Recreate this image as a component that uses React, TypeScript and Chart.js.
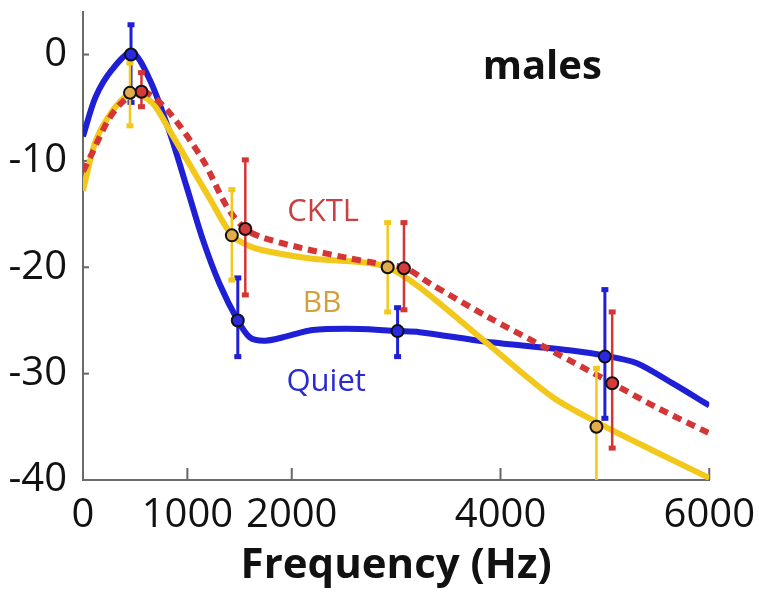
import React, { useEffect, useRef } from "react";
import { Chart, registerables } from "chart.js";

Chart.register(...registerables);

const FONT = "'Open Sans', 'Noto Sans', sans-serif";

const xTickValues = [0, 1000, 2000, 4000, 6000];
const yTickValues = [0, -10, -20, -30, -40];

// Smoothed spectra (dB)
const quietCurveX = [0, 120, 280, 470, 641, 833, 995, 1148, 1310, 1483, 1600, 1750, 1950, 2200, 2650, 3000, 3225, 3866, 4660, 4995, 5301, 5646, 6000];
const quietCurveY = [-7.7, -4, -1.4, 0.2, -2.4, -7.4, -12.5, -17.4, -21.6, -25, -26.6, -26.9, -26.5, -25.9, -25.8, -26, -26.1, -27, -27.8, -28.3, -29, -30.9, -33];

const bbCurveX = [0, 115, 240, 400, 500, 670, 833, 995, 1200, 1426, 1570, 1720, 2200, 2650, 2920, 3225, 3866, 4498, 4928, 5455, 6000];
const bbCurveY = [-12.8, -8.3, -5.9, -4, -3.6, -4.6, -7.2, -9.9, -13.3, -17, -17.9, -18.4, -19.2, -19.5, -20, -21.9, -27.1, -32.2, -34.6, -37.2, -39.8];

const cktlCurveX = [0, 86, 240, 373, 560, 804, 1148, 1378, 1555, 1720, 2100, 2526, 2800, 3091, 3321, 3866, 4498, 5070, 5500, 6000];
const cktlCurveY = [-11, -9.3, -6.2, -4.5, -3.4, -5.2, -9.9, -14.3, -16.4, -17.2, -18.2, -19.1, -19.6, -20.1, -21.5, -24.6, -27.9, -30.9, -33.2, -35.6];

// Measured points with error bars
const quietPointX = [460, 1483, 3014, 5000];
const quietPointY = [0, -25, -26, -28.4];
const quietErrHigh = [2.8, -21, -23.8, -22.1];
const quietErrLow = [-4.5, -28.4, -28.4, -34.2];

const bbPointX = [450, 1426, 2919, 4919];
const bbPointY = [-3.6, -17, -20, -35];
const bbErrHigh = [-0.8, -12.7, -15.8, -29.5];
const bbErrLow = [-6.7, -21.2, -24.2, -40];

const cktlPointX = [560, 1555, 3075, 5070];
const cktlPointY = [-3.5, -16.4, -20.1, -30.9];
const cktlErrHigh = [-1.7, -9.9, -15.8, -24.2];
const cktlErrLow = [-4.9, -22.6, -24.0, -37.0];

const seriesNames = ["Quiet", "BB", "CKTL"];
const panelTitle = "males";
const xAxisTitle = "Frequency (Hz)";

const BLUE = "#1f1fd6";
const YELLOW = "#f2c81c";
const RED = "#d43636";

const toXY = (xs: number[], ys: number[]) => xs.map((x, i) => ({ x, y: ys[i] }));

export default function App() {
  const ref = useRef<HTMLCanvasElement | null>(null);

  useEffect(() => {
    const canvas = ref.current;
    if (!canvas) return;

    const errorSets = [
      { xs: quietPointX, hi: quietErrHigh, lo: quietErrLow, color: BLUE, w: 3 },
      { xs: bbPointX, hi: bbErrHigh, lo: bbErrLow, color: YELLOW, w: 2.5 },
      { xs: cktlPointX, hi: cktlErrHigh, lo: cktlErrLow, color: RED, w: 2.5 },
    ];

    const labelDefs = [
      { text: seriesNames[2], x: 2300, y: -14.8, color: "#c94040", size: 31 },
      { text: seriesNames[1], x: 2290, y: -23.4, color: "#d4a03a", size: 30 },
      { text: seriesNames[0], x: 2330, y: -30.8, color: "#2a2ad2", size: 31 },
    ];

    const extras = {
      id: "extras",
      beforeDatasetsDraw(chart: any) {
        const { ctx, scales, chartArea } = chart;
        const xs = scales.x;
        const ys = scales.y;
        ctx.save();
        ctx.strokeStyle = "#666";
        ctx.lineWidth = 2;
        for (const v of xTickValues) {
          if (v === 0) continue;
          const px = xs.getPixelForValue(v);
          ctx.beginPath();
          ctx.moveTo(px, chartArea.bottom);
          ctx.lineTo(px, chartArea.bottom - 12);
          ctx.stroke();
        }
        for (const v of yTickValues) {
          if (v === -40) continue;
          const py = ys.getPixelForValue(v);
          ctx.beginPath();
          ctx.moveTo(chartArea.left, py);
          ctx.lineTo(chartArea.left + 6, py);
          ctx.stroke();
        }
        ctx.restore();
      },
      afterDatasetDraw(chart: any, args: any) {
        if (args.index !== 2) return;
        const { ctx, scales, chartArea } = chart;
        const xs = scales.x;
        const ys = scales.y;
        ctx.save();
        ctx.beginPath();
        ctx.rect(chartArea.left, chartArea.top - 4, chartArea.right - chartArea.left, chartArea.bottom - chartArea.top + 4);
        ctx.clip();
        for (const s of errorSets) {
          ctx.strokeStyle = s.color;
          ctx.fillStyle = s.color;
          ctx.lineWidth = s.w;
          s.xs.forEach((xv, i) => {
            const px = xs.getPixelForValue(xv);
            const top = ys.getPixelForValue(s.hi[i]);
            const bot = ys.getPixelForValue(s.lo[i]);
            ctx.beginPath();
            ctx.moveTo(px, top);
            ctx.lineTo(px, bot);
            ctx.stroke();
            ctx.fillRect(px - 3.5, top - 2.5, 7, 5);
            if (s.lo[i] > -40) ctx.fillRect(px - 3.5, bot - 2.5, 7, 5);
          });
        }
        ctx.restore();
      },
      afterDraw(chart: any) {
        const { ctx, scales } = chart;
        const xs = scales.x;
        const ys = scales.y;
        ctx.save();
        ctx.textAlign = "center";
        ctx.textBaseline = "middle";
        for (const l of labelDefs) {
          ctx.font = `${l.size}px ${FONT}`;
          ctx.fillStyle = l.color;
          ctx.fillText(l.text, xs.getPixelForValue(l.x), ys.getPixelForValue(l.y));
        }
        ctx.font = `bold 40px ${FONT}`;
        ctx.fillStyle = "#111";
        ctx.fillText(panelTitle, xs.getPixelForValue(4400), ys.getPixelForValue(-1.2));
        ctx.restore();
      },
    };

    const curveStyle = {
      showLine: true,
      borderWidth: 6,
      pointRadius: 0,
      tension: 0.3,
    };

    const chart = new Chart(canvas, {
      type: "scatter",
      data: {
        datasets: [
          {
            ...curveStyle,
            label: "Quiet curve",
            data: toXY(quietCurveX, quietCurveY),
            borderColor: BLUE,
            order: 6,
          },
          {
            ...curveStyle,
            label: "BB curve",
            data: toXY(bbCurveX, bbCurveY),
            borderColor: YELLOW,
            order: 5,
          },
          {
            ...curveStyle,
            label: "CKTL curve",
            data: toXY(cktlCurveX, cktlCurveY),
            borderColor: RED,
            borderDash: [9, 6],
            order: 4,
          },
          {
            label: "Quiet",
            data: toXY(quietPointX, quietPointY),
            pointRadius: 6,
            pointBorderWidth: 2,
            pointBorderColor: "#111",
            pointBackgroundColor: "#2a2ae0",
            order: 1,
          },
          {
            label: "BB",
            data: toXY(bbPointX, bbPointY),
            pointRadius: 6,
            pointBorderWidth: 2,
            pointBorderColor: "#111",
            pointBackgroundColor: "#e2ac4c",
            order: 2,
          },
          {
            label: "CKTL",
            data: toXY(cktlPointX, cktlPointY),
            pointRadius: 6,
            pointBorderWidth: 2,
            pointBorderColor: "#111",
            pointBackgroundColor: "#d63a3a",
            order: 3,
          },
        ],
      },
      options: {
        animation: false,
        responsive: false,
        maintainAspectRatio: false,
        layout: { padding: { top: 12, right: 49, left: 0, bottom: 0 } },
        plugins: {
          legend: { display: false },
          tooltip: { enabled: false },
        },
        scales: {
          x: {
            type: "linear",
            min: 0,
            max: 6000,
            afterBuildTicks: (scale: any) => {
              scale.ticks = xTickValues.map((v) => ({ value: v }));
            },
            afterFit: (scale: any) => {
              scale.height = 115;
              scale.paddingLeft = 0;
            },
            grid: { display: false },
            border: { display: true, color: "#6a6a6a", width: 2 },
            ticks: {
              color: "#111",
              font: { family: FONT, size: 40 },
              padding: 4,
              maxRotation: 0,
              autoSkip: false,
              callback: (v: any) => String(v),
            },
            title: {
              display: true,
              text: xAxisTitle,
              color: "#111",
              font: { family: FONT, size: 42, weight: "bold" },
              padding: { top: 0, bottom: 4 },
            },
          },
          y: {
            type: "linear",
            min: -40,
            max: 4,
            afterBuildTicks: (scale: any) => {
              scale.ticks = yTickValues.map((v) => ({ value: v }));
            },
            afterFit: (scale: any) => {
              scale.width = 83;
              scale.paddingTop = 0;
              scale.paddingBottom = 0;
            },
            grid: { display: false },
            border: { display: true, color: "#6a6a6a", width: 2 },
            ticks: {
              color: "#111",
              font: { family: FONT, size: 40 },
              padding: 8,
              autoSkip: false,
              callback: (v: any) => String(v),
            },
          },
        },
      },
      plugins: [extras],
    } as any);

    return () => chart.destroy();
  }, []);

  return (
    <div style={{ position: "absolute", left: 0, top: 0, width: 759, height: 595, background: "#fff" }}>
      <canvas ref={ref} width={759} height={595} style={{ width: 759, height: 595, display: "block" }} />
    </div>
  );
}
